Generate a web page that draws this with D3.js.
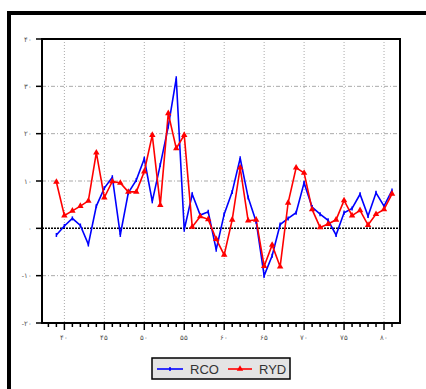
<!DOCTYPE html>
<html>
<head>
<meta charset="utf-8">
<title>RCO / RYD</title>
<style>
  body { margin: 0; background: #fff; }
  svg { display: block; }
  text { font-family: "Liberation Sans", Arial, sans-serif; }
</style>
</head>
<body>
<svg width="426" height="389"></svg>
<script src="https://d3js.org/d3.v7.min.js"></script>
<script>
// years (Persian calendar, 13xx)
var years = [39, 40, 41, 42, 43, 44, 45, 46, 47, 48, 49, 50, 51, 52, 53, 54, 55, 56, 57, 58, 59, 60,
             61, 62, 63, 64, 65, 66, 67, 68, 69, 70, 71, 72, 73, 74, 75, 76, 77, 78, 79, 80, 81];

var rco = [-1.4, 0.5, 2.1, 0.6, -3.4, 4.7, 8.5, 10.8, -1.4, 7.5, 10.2, 14.7, 5.7, 13.4, 21.5, 31.7,
           -0.3, 7.2, 2.8, 3.5, -4.5, 3.0, 7.7, 14.8, 6.5, 1.4, -10.0, -5.8, 0.8, 2.1, 3.3, 9.6,
           4.5, 3.0, 1.7, -1.4, 3.3, 4.2, 7.2, 2.6, 7.5, 4.7, 8.0];

var ryd = [9.8, 2.7, 3.7, 4.7, 5.8, 16.0, 6.5, 9.9, 9.6, 7.7, 7.7, 12.0, 19.7, 4.9, 24.3, 16.9,
           19.7, 0.3, 2.5, 1.9, -2.3, -5.6, 1.8, 12.8, 1.6, 1.8, -8.0, -3.5, -8.1, 5.4, 12.8, 11.7,
           4.0, 0.2, 0.9, 1.8, 5.9, 2.7, 3.8, 0.7, 3.0, 4.0, 7.3];

var xTicks = [40, 45, 50, 55, 60, 65, 70, 75, 80];
var xTickLabels = ["۴۰", "۴۵", "۵۰", "۵۵", "۶۰", "۶۵", "۷۰", "۷۵", "۸۰"];
var yTicks = [-20, -10, 0, 10, 20, 30, 40];
var yTickLabels = ["-۲۰", "-۱۰", "۰", "۱۰", "۲۰", "۳۰", "۴۰"];
var minorTicks = [38, 39, 41, 42, 43, 44, 46, 47, 48, 49, 51, 52, 53, 54, 56, 57, 58, 59,
                  61, 62, 63, 64, 66, 67, 68, 69, 71, 72, 73, 74, 76, 77, 78, 79, 81];
var seriesNames = ["RCO", "RYD"];

var svg = d3.select("svg");

var x = d3.scaleLinear().domain([37.2, 82]).range([42, 400]);
var y = d3.scaleLinear().domain([-20, 40]).range([323, 39]);

// outer frame (top and left only)
svg.append("rect").attr("x", 7).attr("y", 11).attr("width", 419).attr("height", 4).attr("fill", "#000");
svg.append("rect").attr("x", 7).attr("y", 11).attr("width", 4).attr("height", 378).attr("fill", "#000");

// grid
var grid = svg.append("g");
grid.selectAll(".vg")
  .data(xTicks)
  .enter().append("line")
    .attr("x1", function(d) { return x(d); })
    .attr("x2", function(d) { return x(d); })
    .attr("y1", y(40)).attr("y2", y(-20))
    .attr("stroke", "#aaa")
    .attr("stroke-width", 1)
    .attr("stroke-dasharray", "1,2");

grid.selectAll(".hg")
  .data(yTicks.filter(function(d) { return d != 0 && d != 40 && d != -20; }))
  .enter().append("line")
    .attr("x1", x.range()[0]).attr("x2", x.range()[1])
    .attr("y1", function(d) { return y(d); })
    .attr("y2", function(d) { return y(d); })
    .attr("stroke", "#aaa")
    .attr("stroke-width", 1)
    .attr("stroke-dasharray", "4,2,1,2");

// zero line
svg.append("line")
    .attr("x1", x.range()[0]).attr("x2", x.range()[1])
    .attr("y1", y(0)).attr("y2", y(0))
    .attr("stroke", "#000")
    .attr("stroke-width", 1.5)
    .attr("stroke-dasharray", "2,1");

// lines
var line = d3.line()
    .x(function(d, i) { return x(years[i]); })
    .y(function(d) { return y(d); });

svg.append("path")
    .datum(rco)
    .attr("fill", "none")
    .attr("stroke", "#0000ff")
    .attr("stroke-width", 1.6)
    .attr("d", line);

svg.append("path")
    .datum(ryd)
    .attr("fill", "none")
    .attr("stroke", "#ff0000")
    .attr("stroke-width", 1.6)
    .attr("d", line);

// markers
svg.append("g").selectAll("line")
  .data(rco)
  .enter().append("line")
    .attr("x1", function(d, i) { return x(years[i]); })
    .attr("x2", function(d, i) { return x(years[i]); })
    .attr("y1", function(d) { return y(d) - 2; })
    .attr("y2", function(d) { return y(d) + 2; })
    .attr("stroke", "#0000ff")
    .attr("stroke-width", 1.5);

var tri = d3.symbol().type(d3.symbolTriangle).size(18);
svg.append("g").selectAll("path")
  .data(ryd)
  .enter().append("path")
    .attr("transform", function(d, i) { return "translate(" + x(years[i]) + "," + y(d) + ")"; })
    .attr("d", tri)
    .attr("fill", "#ff0000");

// plot frame
svg.append("rect")
    .attr("x", x.range()[0]).attr("y", y(40))
    .attr("width", x.range()[1] - x.range()[0])
    .attr("height", y(-20) - y(40))
    .attr("fill", "none")
    .attr("stroke", "#000")
    .attr("stroke-width", 2);

// x axis ticks
var xa = svg.append("g").attr("transform", "translate(0," + y(-20) + ")");
xa.selectAll(".minor")
  .data(minorTicks)
  .enter().append("line")
    .attr("x1", function(d) { return x(d); })
    .attr("x2", function(d) { return x(d); })
    .attr("y1", 0).attr("y2", 4)
    .attr("stroke", "#000").attr("stroke-width", 1.5);
xa.selectAll(".major")
  .data(xTicks)
  .enter().append("line")
    .attr("x1", function(d) { return x(d); })
    .attr("x2", function(d) { return x(d); })
    .attr("y1", 0).attr("y2", 7)
    .attr("stroke", "#000").attr("stroke-width", 1.5);
xa.selectAll("text")
  .data(xTicks)
  .enter().append("text")
    .attr("x", function(d) { return x(d); })
    .attr("y", 17)
    .attr("text-anchor", "middle")
    .attr("font-size", 7)
    .attr("fill", "#555")
    .text(function(d, i) { return xTickLabels[i]; });

// y axis ticks
var ya = svg.append("g").attr("transform", "translate(" + x.range()[0] + ",0)");
ya.selectAll("line")
  .data(yTicks)
  .enter().append("line")
    .attr("x1", -6).attr("x2", 0)
    .attr("y1", function(d) { return y(d); })
    .attr("y2", function(d) { return y(d); })
    .attr("stroke", "#000").attr("stroke-width", 1.5);
ya.selectAll("text")
  .data(yTicks)
  .enter().append("text")
    .attr("x", -10)
    .attr("y", function(d) { return y(d) + 2.5; })
    .attr("text-anchor", "end")
    .attr("font-size", 7)
    .attr("fill", "#555")
    .text(function(d, i) { return yTickLabels[i]; });

// legend
var lg = svg.append("g").attr("transform", "translate(152,358)");
lg.append("rect")
    .attr("width", 138).attr("height", 21)
    .attr("fill", "#e4e4e4")
    .attr("stroke", "#000")
    .attr("stroke-width", 1.5);
lg.append("line").attr("x1", 5).attr("x2", 31).attr("y1", 11).attr("y2", 11)
    .attr("stroke", "#0000ff").attr("stroke-width", 1.6);
lg.append("line").attr("x1", 18).attr("x2", 18).attr("y1", 9).attr("y2", 13)
    .attr("stroke", "#0000ff").attr("stroke-width", 1.5);
lg.append("text").attr("x", 38).attr("y", 16).attr("font-size", 13).attr("fill", "#333").text(seriesNames[0]);
lg.append("line").attr("x1", 76).attr("x2", 100).attr("y1", 11).attr("y2", 11)
    .attr("stroke", "#ff0000").attr("stroke-width", 1.6);
lg.append("path").attr("transform", "translate(88,11)").attr("d", tri).attr("fill", "#ff0000");
lg.append("text").attr("x", 107).attr("y", 16).attr("font-size", 13).attr("fill", "#333").text(seriesNames[1]);
</script>
</body>
</html>
